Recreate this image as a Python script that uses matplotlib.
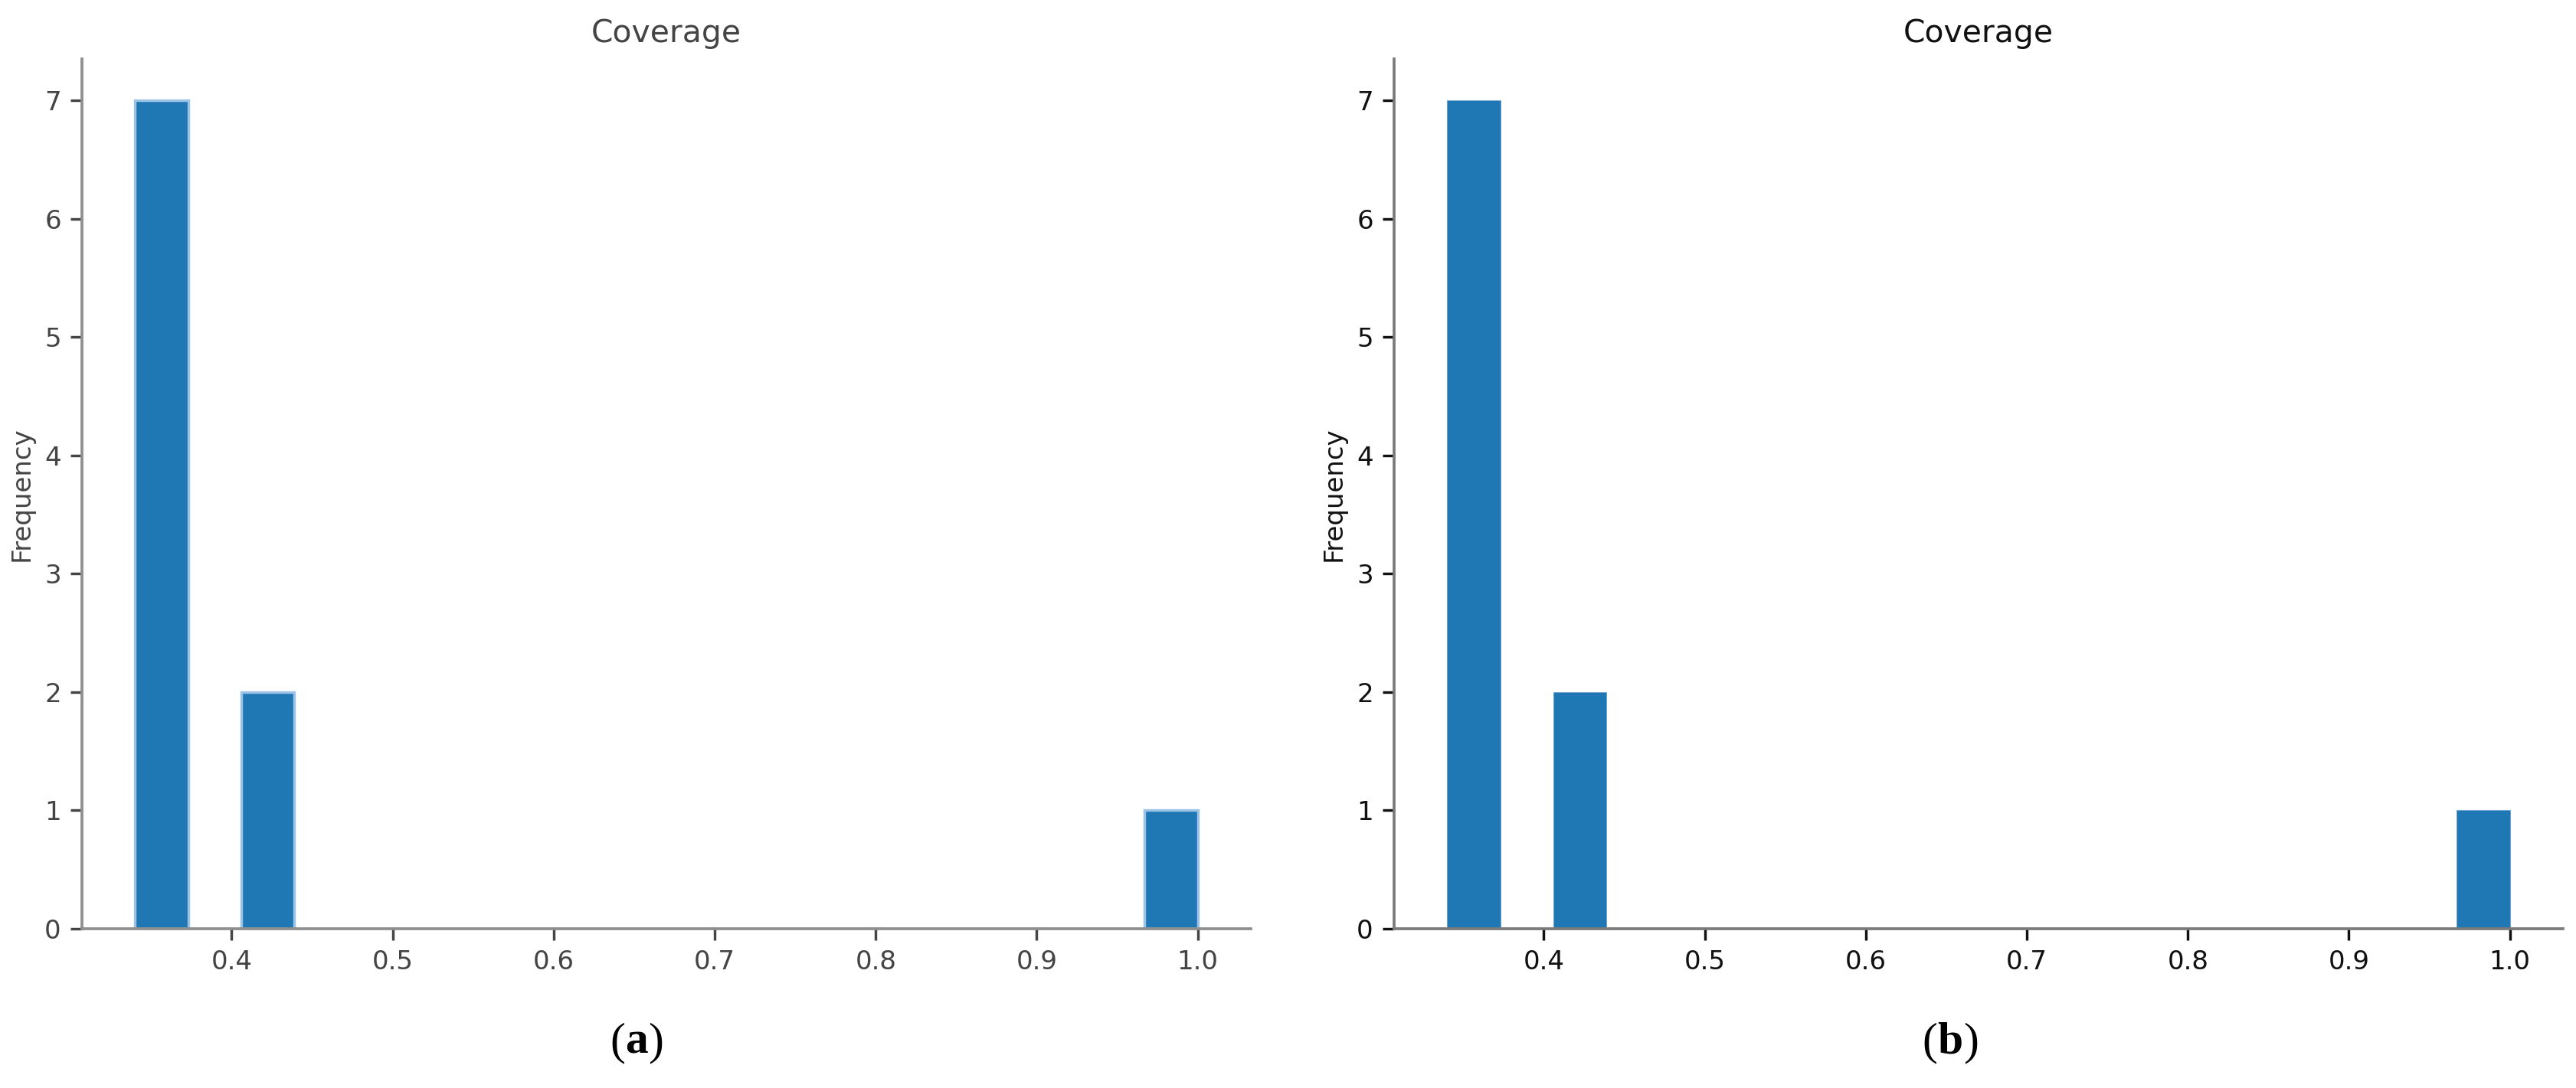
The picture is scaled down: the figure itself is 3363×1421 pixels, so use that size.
import numpy as np
import matplotlib
matplotlib.use("Agg")
import matplotlib.pyplot as plt

# Coverage values (identical data shown in both panels)
coverage_a = [0.34, 0.34, 0.35, 0.35, 0.36, 0.36, 0.37, 0.42, 0.43, 1.0]
coverage_b = [0.34, 0.34, 0.35, 0.35, 0.36, 0.36, 0.37, 0.42, 0.43, 1.0]
n_bins = 20
title_text = "Coverage"
ylabel_text = "Frequency"
captions = ["a", "b"]

W, H, DPI = 3363, 1421, 245
fig = plt.figure(figsize=(W / DPI, H / DPI), dpi=DPI)
fig.patch.set_facecolor("white")

panels = [
    dict(data=coverage_a, rect=[107 / W, 1 - 1213 / H, (1633 - 107) / W, (1213 - 77) / H],
         txt="#444444", spine="#8f8f8f", edge="#9cc3e5", lw=1.0),
    dict(data=coverage_b, rect=[1820 / W, 1 - 1213 / H, (3346 - 1820) / W, (1213 - 77) / H],
         txt="#111111", spine="#7a7a7a", edge="#6fa3d0", lw=0.3),
]

for p, cap in zip(panels, captions):
    ax = fig.add_axes(p["rect"])
    ax.hist(p["data"], bins=n_bins, color="#1f77b4", edgecolor=p["edge"], linewidth=p["lw"])
    ax.set_title(title_text, fontsize=12, color=p["txt"], pad=6.5)
    ax.set_ylabel(ylabel_text, fontsize=10, color=p["txt"], labelpad=4)
    for s in ["top", "right"]:
        ax.spines[s].set_visible(False)
    for s in ["left", "bottom"]:
        ax.spines[s].set_color(p["spine"])
        ax.spines[s].set_linewidth(1.1)
    ax.tick_params(axis="both", labelsize=10, labelcolor=p["txt"], color=p["txt"],
                   length=4.5, width=1.0)
    ax.set_xticks([0.4, 0.5, 0.6, 0.7, 0.8, 0.9, 1.0])
    ax.set_yticks(range(0, 8))
    ax.set_xlim(0.307, 1.033)
    ax.set_ylim(0, 7.35)
    # caption below panel
    cx = p["rect"][0] + p["rect"][2] * 0.465
    fig.text(cx, 1 - 1362 / H, "(", fontsize=17.5, family="Liberation Serif",
             ha="right", va="center", color="black")
    fig.text(cx, 1 - 1362 / H, cap, fontsize=17.5, family="Liberation Serif",
             fontweight="bold", ha="left", va="center", color="black")

# draw closing parentheses right after bold letters
fig.canvas.draw()
r = fig.canvas.get_renderer()
for txt in list(fig.texts):
    if txt.get_text() in captions:
        bb = txt.get_window_extent(renderer=r)
        fig.text(bb.x1 / W, 1 - 1362 / H, ")", fontsize=17.5, family="Liberation Serif",
                 ha="left", va="center", color="black")

fig.savefig("out.png", dpi=DPI, facecolor="white")
